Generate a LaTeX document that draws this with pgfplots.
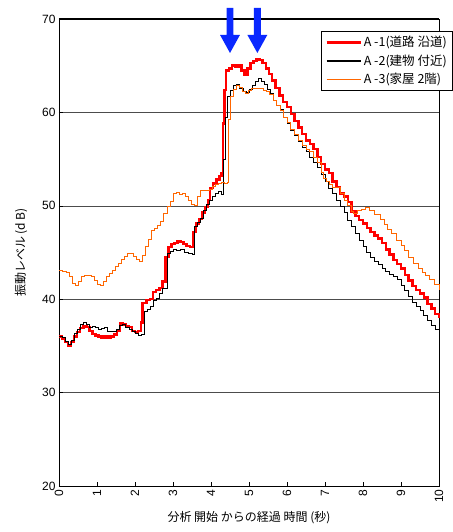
\documentclass[border=0pt]{standalone}
\usepackage{fontspec}
\setmainfont{Liberation Sans}
\newfontfamily\jp{Noto Sans CJK JP}
\usepackage{pgfplots}
\pgfplotsset{compat=1.18}
\usetikzlibrary{calc}
\definecolor{aRed}{RGB}{255,0,0}
\definecolor{aOrange}{RGB}{255,102,0}
\definecolor{aBlue}{RGB}{10,40,255}
\begin{document}
\begin{tikzpicture}
\begin{axis}[
 scale only axis, width=380pt, height=467pt,
 xmin=0, xmax=10, ymin=20, ymax=70,
 xtick={0,...,10}, ytick={20,30,...,70},
 xticklabel style={rotate=90, anchor=east, font=\fontsize{12}{14}\selectfont},
 yticklabel style={font=\fontsize{12}{14}\selectfont},
 /pgf/number format/assume math mode=true,
 ymajorgrids, grid style={black!70, line width=0.5pt},
 xtick pos=bottom, ytick pos=left,
 tick align=inside, major tick length=4pt,
 tick style={black, line width=0.5pt},
 axis line style={line width=0.8pt},
 xlabel={\jp\fontsize{12}{14}\selectfont 分析 開始 からの経過 時間 (秒)},
 ylabel={\jp\fontsize{12}{14}\selectfont 振動レベル (d B)},
 xlabel style={yshift=-2pt},
 ylabel style={yshift=8pt},
 clip=false,
 legend cell align=left,
 legend image code/.code={\draw[#1] (0pt,0pt) -- (34pt,0pt);},
 legend style={at={(rel axis cs:1.037,0.974)}, anchor=north east,
   font=\jp\fontsize{12.5}{15}\selectfont, draw=black, line width=0.6pt, fill=white,
   row sep=2.5pt, inner xsep=4pt, inner ysep=3pt,
   /tikz/every even column/.append style={column sep=1pt}},
]
\addplot[const plot, aRed, line width=2.4pt] coordinates {
(0.00,36.0)(0.08,35.8)(0.16,35.4)(0.24,35.0)(0.32,35.4)(0.40,36.0)(0.48,36.5)(0.56,36.9)
(0.64,37.1)(0.72,37.0)(0.80,36.6)(0.88,36.3)(0.96,36.1)(1.04,36.0)(1.12,35.9)(1.20,36.0)
(1.28,35.9)(1.36,36.0)(1.44,36.2)(1.52,36.6)(1.60,37.4)(1.68,37.3)(1.76,37.1)(1.84,37.0)
(1.92,36.6)(2.00,36.5)(2.08,36.6)(2.16,37.5)(2.20,39.6)(2.30,39.9)(2.40,40.0)(2.48,40.8)
(2.56,41.0)(2.64,41.2)(2.72,41.9)(2.80,44.5)(2.88,45.6)(2.96,45.9)(3.04,46.0)(3.12,46.2)
(3.20,46.1)(3.28,45.9)(3.36,45.7)(3.44,45.6)(3.52,47.2)(3.60,48.1)(3.68,48.6)(3.76,49.3)
(3.84,49.9)(3.92,50.6)(3.98,51.9)(4.06,52.4)(4.14,52.8)(4.22,53.2)(4.28,53.5)(4.31,58.8)
(4.35,62.4)(4.40,64.5)(4.48,64.7)(4.56,65.0)(4.64,64.9)(4.72,65.0)(4.80,64.5)(4.88,64.0)
(4.96,64.7)(5.04,65.3)(5.12,65.5)(5.20,65.7)(5.28,65.6)(5.36,65.3)(5.44,64.7)(5.52,64.1)
(5.60,63.4)(5.70,62.6)(5.80,61.8)(5.90,61.1)(6.00,60.6)(6.10,59.8)(6.20,59.1)(6.30,58.4)
(6.40,57.7)(6.50,57.0)(6.60,56.6)(6.70,56.1)(6.80,55.2)(6.90,54.5)(7.00,53.9)(7.10,53.5)
(7.20,52.6)(7.30,52.0)(7.40,51.3)(7.50,51.0)(7.60,50.4)(7.70,49.4)(7.80,48.9)(7.90,48.5)
(8.00,48.1)(8.10,47.6)(8.20,47.2)(8.30,46.8)(8.40,46.5)(8.50,46.0)(8.60,45.3)(8.70,44.8)
(8.80,44.2)(8.90,43.8)(9.00,43.3)(9.10,42.6)(9.20,42.0)(9.30,41.4)(9.40,41.0)(9.50,40.6)
(9.60,40.2)(9.70,39.5)(9.80,39.0)(9.90,38.4)(10.00,38.0)};
\addlegendentry{A -1(道路 沿道)}
\addplot[const plot, black, line width=0.8pt, legend image post style={line width=2pt}] coordinates {
(0.00,36.0)(0.08,35.9)(0.16,35.5)(0.24,35.2)(0.32,35.6)(0.40,36.3)(0.48,36.8)(0.56,37.3)
(0.64,37.5)(0.72,37.3)(0.80,37.0)(0.88,37.1)(0.96,37.0)(1.04,36.8)(1.12,36.9)(1.20,37.0)
(1.28,36.6)(1.36,36.5)(1.44,36.6)(1.52,36.8)(1.60,37.2)(1.68,37.3)(1.76,37.0)(1.84,36.8)
(1.92,36.5)(2.00,36.3)(2.08,36.1)(2.16,36.2)(2.24,38.7)(2.32,38.9)(2.40,39.2)(2.48,39.9)
(2.56,40.1)(2.64,40.6)(2.72,41.2)(2.84,44.9)(2.92,45.1)(3.00,45.3)(3.10,45.2)(3.20,45.3)
(3.30,45.0)(3.40,44.9)(3.50,44.8)(3.56,47.8)(3.64,48.2)(3.72,48.7)(3.80,49.5)(3.88,50.2)
(3.96,50.6)(4.04,51.0)(4.12,51.3)(4.20,51.5)(4.28,51.2)(4.32,55.0)(4.38,59.5)(4.44,61.7)
(4.52,62.4)(4.60,62.9)(4.68,63.0)(4.76,62.6)(4.84,62.2)(4.92,62.1)(5.00,62.5)(5.08,62.9)
(5.16,63.3)(5.24,63.6)(5.32,63.3)(5.40,63.0)(5.48,62.5)(5.56,62.0)(5.64,61.3)(5.72,60.8)
(5.82,60.3)(5.90,59.5)(6.00,58.8)(6.10,58.1)(6.20,57.5)(6.30,56.9)(6.40,56.2)(6.50,55.8)
(6.60,55.2)(6.70,54.6)(6.80,54.1)(6.90,53.4)(7.00,52.6)(7.10,51.9)(7.20,51.3)(7.30,50.6)
(7.40,49.9)(7.50,49.3)(7.60,48.4)(7.70,47.8)(7.80,47.0)(7.90,46.3)(8.00,45.6)(8.10,45.0)
(8.20,44.5)(8.30,44.1)(8.40,43.7)(8.50,43.3)(8.60,43.0)(8.70,42.7)(8.80,42.4)(8.90,42.1)
(9.00,41.5)(9.10,40.9)(9.20,40.3)(9.30,39.7)(9.40,39.2)(9.50,38.8)(9.60,38.3)(9.70,37.7)
(9.80,37.2)(9.90,36.8)(10.00,36.3)};
\addlegendentry{A -2(建物 付近)}
\addplot[const plot, aOrange, line width=0.8pt, legend image post style={line width=1.6pt}] coordinates {
(0.00,43.1)(0.10,43.0)(0.20,42.9)(0.28,42.4)(0.36,41.7)(0.44,41.5)(0.52,41.9)(0.60,42.4)
(0.68,42.6)(0.76,42.6)(0.84,42.4)(0.92,42.0)(1.00,41.6)(1.08,41.5)(1.16,41.9)(1.24,42.4)
(1.32,42.8)(1.40,43.1)(1.48,43.5)(1.56,43.8)(1.64,44.3)(1.72,44.6)(1.80,44.9)(1.88,44.9)
(1.96,44.6)(2.04,44.3)(2.12,44.0)(2.20,44.7)(2.28,45.6)(2.36,46.4)(2.44,47.4)(2.52,47.6)
(2.60,47.9)(2.68,48.3)(2.76,49.2)(2.84,49.9)(2.92,50.5)(3.00,51.3)(3.08,51.4)(3.16,51.2)
(3.24,51.3)(3.32,51.0)(3.40,50.6)(3.48,50.2)(3.56,50.0)(3.64,51.0)(3.72,51.7)(3.80,51.6)
(3.88,51.7)(3.96,51.8)(4.04,52.1)(4.12,52.3)(4.20,52.4)(4.28,52.5)(4.36,52.4)(4.43,52.5)
(4.46,59.2)(4.50,61.7)(4.58,62.5)(4.66,62.9)(4.74,62.7)(4.82,62.2)(4.90,62.0)(4.98,62.4)
(5.06,62.6)(5.14,62.6)(5.22,62.6)(5.30,62.6)(5.38,62.4)(5.46,62.2)(5.54,61.9)(5.64,61.3)
(5.72,60.8)(5.82,60.2)(5.90,59.5)(6.00,58.9)(6.10,58.2)(6.20,57.6)(6.30,57.0)(6.40,56.5)
(6.52,56.0)(6.60,55.8)(6.70,55.2)(6.80,54.6)(6.90,53.6)(6.96,52.9)(7.04,52.6)(7.12,52.3)
(7.20,52.0)(7.31,52.0)(7.40,51.3)(7.50,50.6)(7.60,50.0)(7.70,49.4)(7.75,49.2)(7.85,49.5)
(7.95,49.6)(8.05,49.8)(8.18,49.5)(8.30,49.1)(8.45,48.5)(8.55,48.0)(8.65,47.5)(8.75,47.0)
(8.89,46.3)(9.00,45.8)(9.10,45.2)(9.20,44.5)(9.32,43.8)(9.45,43.3)(9.55,42.9)(9.65,42.5)
(9.76,42.1)(9.88,41.6)(10.00,41.0)};
\addlegendentry{A -3(家屋 2階)}
\draw[line width=1.8pt] (rel axis cs:0,1) -- (rel axis cs:1,1);
\fill[aBlue] (axis cs:4.408,71.2) -- (axis cs:4.592,71.2) -- (axis cs:4.592,68.3) -- (axis cs:4.763,68.3) -- (axis cs:4.5,66.36) -- (axis cs:4.237,68.3) -- (axis cs:4.408,68.3) -- cycle;
\fill[aBlue] (axis cs:5.128,71.2) -- (axis cs:5.312,71.2) -- (axis cs:5.312,68.3) -- (axis cs:5.483,68.3) -- (axis cs:5.22,66.36) -- (axis cs:4.957,68.3) -- (axis cs:5.128,68.3) -- cycle;
\coordinate (bl) at (rel axis cs:0,0);
\coordinate (tr) at (rel axis cs:1,1);
\end{axis}
\pgfresetboundingbox
\path ($(bl)+(-59pt,-46pt)$) rectangle ($(tr)+(13pt,19pt)$);
\end{tikzpicture}
\end{document}
